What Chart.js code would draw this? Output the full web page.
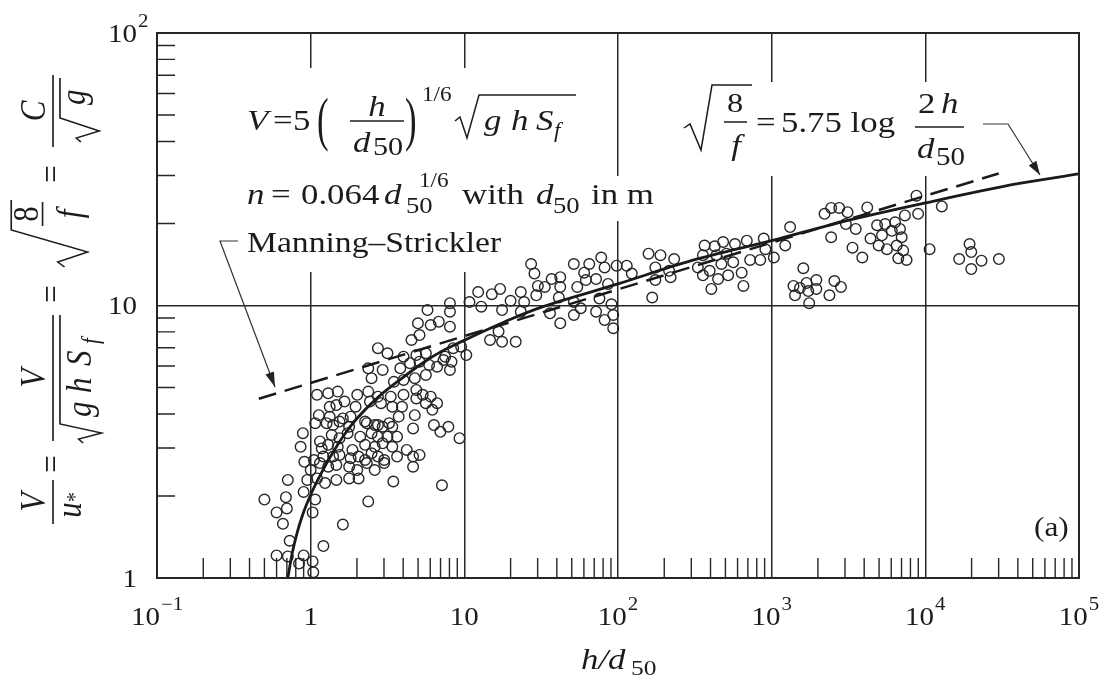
<!DOCTYPE html>
<html>
<head>
<meta charset="utf-8">
<title>V/u* versus h/d50</title>
<script src="https://cdn.jsdelivr.net/npm/chart.js@4.4.1/dist/chart.umd.min.js"></script>
<style>
  html, body { margin: 0; padding: 0; background: #fff; }
  #c { display: block; }
</style>
</head>
<body>
<canvas id="c" width="1102" height="675"></canvas>
<script>
// Field measurements: relative submergence h/d50 and resistance V/u*
const obsX = [
  5.76, 8.06, 4.99, 6.04, 6.82, 8.06, 4.53, 5.11, 14.7, 17.6, 21.6,
  2.74, 3.16, 5.62, 4.87, 4.02, 7.50, 8.46, 10.3, 9.53,
  2.37, 2.94, 3.83, 4.43, 5.11, 5.90, 6.65, 7.32, 8.25, 8.06,
  2.49, 3.48, 4.02, 4.76, 5.62,
  1.10, 1.30, 1.50, 1.66, 2.01, 2.37, 2.74, 3.32, 4.02, 4.87, 5.36, 6.04, 6.65,
  1.33, 1.47, 1.96, 2.43, 2.87, 3.40, 3.93, 4.87, 5.62, 6.19,
  1.13, 1.33, 1.62, 1.82, 2.26, 2.74, 3.24, 3.74, 4.76,
  1.07, 1.27, 1.40, 1.54, 1.78, 2.32, 2.61, 2.94, 3.40, 4.64, 6.34, 7.87, 6.98,
  0.89, 1.15, 1.37, 1.54, 1.74, 2.10, 2.49, 2.74, 3.16, 3.65, 9.30,
  0.86, 1.18, 1.30, 1.50, 1.87, 2.26, 2.61, 2.94, 3.40, 4.22, 5.11,
  0.91, 1.05, 1.21, 1.40, 1.54, 1.82, 2.05, 2.26, 2.49, 2.74, 3.01, 3.65, 4.64, 4.64,
  1.00, 1.15, 1.30, 1.47, 1.78, 2.01, 2.32, 2.61, 3.01,
  0.71, 0.95, 1.10, 1.24, 1.47, 1.78, 2.05, 3.45, 7.15,
  0.50, 0.69, 0.90, 1.07, 2.37,
  0.60, 0.70, 1.03, 0.66, 1.62,
  0.73, 1.21, 0.60, 0.71, 0.90,
  0.84, 1.03, 1.04, 8.06,
  27.2, 28.6, 37.0, 42.1, 30.1, 33.4, 42.1, 29.4, 41.2, 36.1, 42.1,
  23.3, 24.5, 23.3, 20.0, 17.6, 17.1, 15.1, 12.3, 10.8, 12.9, 16.7,
  366, 426, 483, 577, 689, 357, 437, 508, 331, 395, 471, 562, 638,
  357, 448, 521, 405, 655, 158, 189, 232, 175, 215, 220, 175, 167,
  51.6, 65.0, 77.8, 81.8, 98.0, 114, 60.2, 72.0, 54.3, 61.8, 86.1, 123,
  51.6, 75.7, 90.7, 57.2, 72.0, 51.6, 93.1, 81.8, 93.1,
  888, 910, 1033, 1225, 1318, 843, 724, 2208, 2438, 2754, 3119, 3041, 3525, 4188, 2438, 3357, 3890,
  1607, 1387, 1528, 1687, 1953, 1730, 1953, 1419, 1754, 2377, 2559, 2825,
  4853, 5480, 6353, 7362, 8750, 8974, 4397, 5222, 6053, 6839, 4968, 5623, 6513, 7015, 7178, 6668, 7551,
  10660, 12800, 19400, 19900, 16600, 23200, 19900, 30100
];
const obsY = [
  9.62, 9.49, 8.60, 8.48, 8.72, 8.36, 7.47, 7.79, 7.47, 7.36, 7.36,
  6.97, 6.68, 6.68, 6.58, 6.49, 6.49, 6.97, 6.58, 7.06,
  5.88, 5.80, 5.88, 6.14, 6.22, 6.05, 5.96, 6.31, 6.22, 5.80,
  5.41, 5.25, 5.33, 5.41, 5.56,
  4.70, 4.76, 4.83, 4.44, 4.70, 4.83, 4.63, 4.63, 4.70, 4.90, 4.70, 4.63, 4.38,
  4.25, 4.31, 4.25, 4.44, 4.38, 4.25, 4.25, 4.56, 4.38, 4.14,
  3.96, 3.91, 3.85, 3.91, 3.75, 3.64, 3.70, 3.91, 3.96,
  3.70, 3.70, 3.64, 3.75, 3.59, 3.70, 3.64, 3.59, 3.59, 3.54, 3.64, 3.59, 3.44,
  3.40, 3.17, 3.35, 3.26, 3.40, 3.30, 3.40, 3.30, 3.30, 3.30, 3.26,
  3.03, 2.99, 3.08, 3.03, 2.95, 3.08, 3.03, 3.12, 3.03, 2.95, 2.83,
  2.67, 2.71, 2.79, 2.79, 2.83, 2.75, 2.79, 2.71, 2.87, 2.79, 2.71, 2.79, 2.79, 2.56,
  2.49, 2.64, 2.56, 2.60, 2.56, 2.49, 2.64, 2.49, 2.64,
  2.29, 2.29, 2.32, 2.23, 2.29, 2.32, 2.32, 2.26, 2.19,
  1.94, 1.98, 2.07, 1.94, 1.91,
  1.74, 1.80, 1.74, 1.58, 1.57,
  1.37, 1.31, 1.21, 1.20, 1.21,
  1.13, 1.15, 1.05, 10.2,
  14.2, 13.1, 12.5, 12.7, 11.8, 11.7, 11.7, 10.9, 10.7, 9.36, 8.60,
  11.2, 10.3, 9.49, 10.4, 9.62, 11.5, 11.0, 11.2, 10.3, 9.9, 8.02,
  16.6, 16.5, 17.1, 16.8, 17.3, 15.3, 15.3, 15.5, 13.8, 13.4, 14.2, 14.4, 13.2,
  12.9, 12.5, 12.9, 11.5, 11.8, 15.5, 15.3, 14.8, 13.8, 13.4, 12.7, 12.4, 10.7,
  14.2, 14.2, 15.0, 13.8, 14.0, 14.0, 13.2, 12.5, 11.7, 12.4, 12.0, 13.1,
  10.3, 10.6, 10.1, 9.77, 9.49, 9.23, 9.23, 8.85, 8.25,
  17.6, 16.1, 15.0, 16.6, 19.4, 14.7, 14.7, 21.7, 22.8, 22.8, 22.0, 19.9, 19.1, 22.9, 17.8, 16.3, 15.0,
  13.7, 11.8, 11.6, 12.1, 12.4, 11.3, 11.5, 10.9, 10.2, 10.9, 12.3, 11.7,
  19.7, 19.9, 20.2, 21.4, 25.3, 21.7, 17.6, 18.1, 18.8, 19.1, 16.6, 16.1, 16.6, 17.8, 15.9, 14.9, 14.7,
  16.1, 23.1, 16.8, 15.7, 14.8, 14.6, 13.6, 14.8
];

// Rough-bed logarithmic law, sqrt(8/f) = 5.75 log(2h/d50)
const logLawX = [0.71, 0.76, 0.82, 0.885, 1, 1.13, 1.33, 1.65, 2.0, 2.74, 4.0, 5.36, 7.15, 10, 20, 32.5, 100, 300, 1000, 3000, 10000, 40000, 100000];
const logLawY = [1.0, 1.24, 1.48, 1.70, 2.02, 2.33, 2.76, 3.35, 3.85, 4.6, 5.45, 6.15, 6.8, 7.45, 8.9, 9.9, 12.0, 14.6, 17.3, 20.4, 23.8, 28.0, 30.4];

// Manning–Strickler power law
const manningX = [0.46, 30000];
const manningY = [4.55, 30.5];

// Decade tick labels (base^exponent)
const xTickValues = [0.1, 1, 10, 100, 1000, 10000, 100000];
const xTickLabels = ['10^−1', '1', '10', '10^2', '10^3', '10^4', '10^5'];
const yTickValues = [1, 10, 100];
const yTickLabels = ['1', '10', '10^2'];

const INK = '#262626';
const TEXT = '#1c1c1c';
const SERIF = '"Liberation Serif", "Times New Roman", Times, serif';
const STRETCH = 1.16;

function setFont(ctx, size, it) {
  ctx.font = (it ? 'italic ' : '') + size + 'px ' + SERIF;
}
function textW(ctx, s, size, it, sx) {
  setFont(ctx, size, it);
  return ctx.measureText(s).width * sx;
}
function put(ctx, s, x, y, size, o = {}) {
  const sx = o.sx ?? STRETCH, sy = o.sy ?? 1;
  const w = textW(ctx, s, size, o.it, sx);
  let x0 = x;
  if (o.align === 'center') x0 = x - w / 2;
  else if (o.align === 'right') x0 = x - w;
  ctx.save();
  ctx.translate(x0, y);
  ctx.scale(sx, sy);
  ctx.textAlign = 'left';
  ctx.textBaseline = 'alphabetic';
  ctx.fillText(s, 0, 0);
  ctx.restore();
  return x0 + w;
}
function seg(ctx, pts, lw) {
  ctx.beginPath();
  ctx.moveTo(pts[0][0], pts[0][1]);
  for (let i = 1; i < pts.length; i++) ctx.lineTo(pts[i][0], pts[i][1]);
  ctx.lineWidth = lw;
  ctx.stroke();
}
function arrowHead(ctx, from, tip, len, half) {
  const dx = tip[0] - from[0], dy = tip[1] - from[1];
  const L = Math.hypot(dx, dy), ux = dx / L, uy = dy / L;
  const bx = tip[0] - ux * len, by = tip[1] - uy * len;
  ctx.beginPath();
  ctx.moveTo(tip[0], tip[1]);
  ctx.lineTo(bx - uy * half, by + ux * half);
  ctx.lineTo(bx + uy * half, by - ux * half);
  ctx.closePath();
  ctx.fill();
}
function tickLabel(ctx, label, px, baseY, align, anchorX) {
  const parts = label.split('^');
  const base = parts[0], exp = parts[1] || '';
  const BS = 25, ES = 18;
  const wb = textW(ctx, base, BS, false, STRETCH);
  const we = exp ? textW(ctx, exp, ES, false, STRETCH) + 1 : 0;
  const x0 = align === 'center' ? px - (wb + we) / 2 : anchorX - wb;
  put(ctx, base, x0, baseY, BS);
  if (exp) put(ctx, exp, x0 + wb + 1, baseY - 15, ES);
}

// Vertical axis title, written bottom-to-top
function yTitle(ctx) {
  ctx.save();
  ctx.translate(53, 300);
  ctx.scale(STRETCH, 1);
  ctx.rotate(-Math.PI / 2);
  const F = 31;
  const o = { sx: 1 }, oi = { sx: 1, it: true };
  const c = (a) => Object.assign({ align: 'center' }, a);
  seg(ctx, [[-224, 0], [-180, 0]], 1.4);
  put(ctx, 'V', -202, -7, F, c(oi));
  put(ctx, 'u', -210, 24, F, c(oi));
  put(ctx, '*', -197, 25, 20, c(o));
  put(ctx, '=', -164, 9, F, c(o));
  seg(ctx, [[-141, 0], [-15, 0]], 1.4);
  put(ctx, 'V', -78, -7, F, c(oi));
  seg(ctx, [[-143, 26], [-139, 22], [-133, 42], [-124, 6], [-15, 6]], 1.4);
  put(ctx, 'g', -117, 33, F, oi);
  put(ctx, 'h', -93, 33, F, oi);
  put(ctx, 'S', -66, 33, F, oi);
  put(ctx, 'f', -44, 40, 21, oi);
  put(ctx, '=', 6, 9, F, c(o));
  seg(ctx, [[33, 10], [38, 4], [48, 30], [70, -36], [100, -36]], 1.4);
  put(ctx, '8', 86, -13, F, c(o));
  seg(ctx, [[74, -9], [98, -9]], 1.4);
  put(ctx, 'f', 86, 24, F, c(oi));
  put(ctx, '=', 126, 9, F, c(o));
  seg(ctx, [[153, 0], [225, 0]], 1.4);
  put(ctx, 'C', 189, -7, F, c(oi));
  seg(ctx, [[158, 24], [162, 20], [169, 40], [182, 6], [222, 6]], 1.4);
  put(ctx, 'g', 195, 28, F, oi);
  ctx.restore();
}

const decor = {
  id: 'decor',
  beforeDatasetsDraw(chart) {
    const ctx = chart.ctx, xs = chart.scales.x, ys = chart.scales.y, a = chart.chartArea;
    ctx.save();
    ctx.strokeStyle = INK;
    ctx.lineWidth = 1.4;
    ctx.beginPath();
    for (let d = -1; d < 5; d++) {
      for (let m = 2; m <= 9; m++) {
        const px = xs.getPixelForValue(m * Math.pow(10, d));
        ctx.moveTo(px, a.bottom);
        ctx.lineTo(px, a.bottom - 20);
      }
    }
    for (let d = 0; d < 2; d++) {
      for (let m = 2; m <= 9; m++) {
        const py = ys.getPixelForValue(m * Math.pow(10, d));
        ctx.moveTo(a.left, py);
        ctx.lineTo(a.left + 18, py);
      }
    }
    ctx.stroke();
    // clear the grid behind the equations
    ctx.fillStyle = '#fff';
    ctx.fillRect(238, 68, 322, 204);
    ctx.fillRect(585, 176, 75, 45);
    ctx.fillRect(680, 82, 332, 94);
    ctx.restore();
  },
  afterDatasetsDraw(chart) {
    const ctx = chart.ctx, xs = chart.scales.x, ys = chart.scales.y, a = chart.chartArea;
    ctx.save();
    ctx.strokeStyle = INK;
    ctx.lineWidth = 2;
    ctx.strokeRect(a.left, a.top, a.right - a.left, a.bottom - a.top);

    ctx.fillStyle = TEXT;
    ctx.strokeStyle = TEXT;
    xTickValues.forEach((v, i) => tickLabel(ctx, xTickLabels[i], xs.getPixelForValue(v), 625, 'center'));
    yTickValues.forEach((v, i) => {
      const py = ys.getPixelForValue(v);
      tickLabel(ctx, yTickLabels[i], 0, py + 8.5, 'right', 137);
    });

    // axis titles
    put(ctx, 'h/d', 581, 669, 30, { it: true });
    put(ctx, '50', 631, 675, 22);
    yTitle(ctx);

    // V = 5 (h/d50)^(1/6) sqrt(g h Sf)
    put(ctx, 'V', 247, 130, 30, { it: true });
    put(ctx, '=', 273, 130, 30);
    put(ctx, '5', 293, 130, 30);
    put(ctx, '(', 317, 139, 30, { sy: 1.95 });
    put(ctx, 'h', 377, 116, 30, { it: true, align: 'center' });
    seg(ctx, [[350, 121], [404, 121]], 1.5);
    put(ctx, 'd', 353, 152, 30, { it: true });
    put(ctx, '50', 373, 155, 26);
    put(ctx, ')', 405, 139, 30, { sy: 1.95 });
    put(ctx, '1/6', 422, 101, 20);
    seg(ctx, [[455, 121], [460, 117], [467, 138], [479, 95], [576, 95]], 1.5);
    put(ctx, 'g', 484, 130, 30, { it: true });
    put(ctx, 'h', 511, 130, 30, { it: true });
    put(ctx, 'S', 536, 130, 30, { it: true });
    put(ctx, 'f', 554, 137, 20, { it: true });

    // n = 0.064 d50^(1/6) with d50 in m
    put(ctx, 'n', 247, 204, 30, { it: true });
    put(ctx, '=', 271, 204, 30);
    put(ctx, '0.064', 301, 204, 30);
    put(ctx, 'd', 384, 204, 30, { it: true });
    put(ctx, '1/6', 419, 187, 20);
    put(ctx, '50', 406, 213, 23);
    put(ctx, 'with', 462, 204, 30);
    put(ctx, 'd', 536, 204, 30, { it: true });
    put(ctx, '50', 553, 213, 23);
    put(ctx, 'in m', 591, 204, 30);

    // Manning–Strickler label and leader
    put(ctx, 'Manning–Strickler', 247, 252, 29);
    ctx.strokeStyle = '#333';
    ctx.fillStyle = '#222';
    seg(ctx, [[238, 241], [220, 241], [275, 387]], 1.2);
    arrowHead(ctx, [220, 241], [275, 387], 15, 4.5);

    // sqrt(8/f) = 5.75 log (2h/d50)
    ctx.fillStyle = TEXT;
    ctx.strokeStyle = TEXT;
    seg(ctx, [[684, 128], [690, 124], [701, 150], [712, 85], [752, 85]], 1.5);
    put(ctx, '8', 735, 112, 28, { align: 'center' });
    seg(ctx, [[724, 122], [747, 122]], 1.5);
    put(ctx, 'f', 736, 155, 30, { it: true, align: 'center' });
    put(ctx, '=', 756, 132, 30);
    put(ctx, '5.75 log', 781, 132, 30);
    put(ctx, '2', 918, 113, 30);
    put(ctx, 'h', 941, 113, 30, { it: true });
    seg(ctx, [[915, 127], [964, 127]], 1.5);
    put(ctx, 'd', 917, 158, 30, { it: true });
    put(ctx, '50', 936, 165, 25);
    ctx.strokeStyle = '#333';
    ctx.fillStyle = '#222';
    seg(ctx, [[983, 124], [1008, 124], [1040, 175]], 1.2);
    arrowHead(ctx, [1008, 124], [1040, 175], 14, 4.5);

    ctx.fillStyle = TEXT;
    put(ctx, '(a)', 1034, 536, 27);
    ctx.restore();
  }
};

const pts = (xs, ys) => xs.map((x, i) => ({ x, y: ys[i] }));

new Chart(document.getElementById('c'), {
  type: 'scatter',
  data: {
    datasets: [
      {
        type: 'line',
        label: 'sqrt(8/f) = 5.75 log(2h/d50)',
        data: pts(logLawX, logLawY),
        showLine: true,
        borderColor: '#1a1a1a',
        borderWidth: 2.8,
        pointRadius: 0,
        cubicInterpolationMode: 'monotone',
        fill: false,
        order: 1
      },
      {
        type: 'line',
        label: 'Manning–Strickler',
        data: pts(manningX, manningY),
        showLine: true,
        borderColor: '#1a1a1a',
        borderWidth: 2.5,
        borderDash: [18, 9],
        pointRadius: 0,
        fill: false,
        order: 2
      },
      {
        type: 'scatter',
        label: 'Measurements',
        data: pts(obsX, obsY),
        pointStyle: 'circle',
        pointRadius: 5.3,
        pointBorderWidth: 1.4,
        pointBorderColor: '#262626',
        pointBackgroundColor: 'rgba(0,0,0,0)',
        clip: false,
        order: 3
      }
    ]
  },
  options: {
    responsive: false,
    maintainAspectRatio: false,
    animation: false,
    devicePixelRatio: 1,
    events: [],
    layout: { padding: { left: 157, right: 23, top: 33, bottom: 97 } },
    plugins: { legend: { display: false }, tooltip: { enabled: false } },
    scales: {
      x: {
        type: 'logarithmic',
        min: 0.1,
        max: 100000,
        afterBuildTicks: (s) => { s.ticks = xTickValues.map((v) => ({ value: v })); },
        afterFit: (s) => { s.height = 0; },
        ticks: { display: false },
        grid: { color: INK, lineWidth: 1.5, drawTicks: false },
        border: { display: false }
      },
      y: {
        type: 'logarithmic',
        min: 1,
        max: 100,
        afterBuildTicks: (s) => { s.ticks = yTickValues.map((v) => ({ value: v })); },
        afterFit: (s) => { s.width = 0; },
        ticks: { display: false },
        grid: { color: INK, lineWidth: 1.5, drawTicks: false },
        border: { display: false }
      }
    }
  },
  plugins: [decor]
});
</script>
</body>
</html>
